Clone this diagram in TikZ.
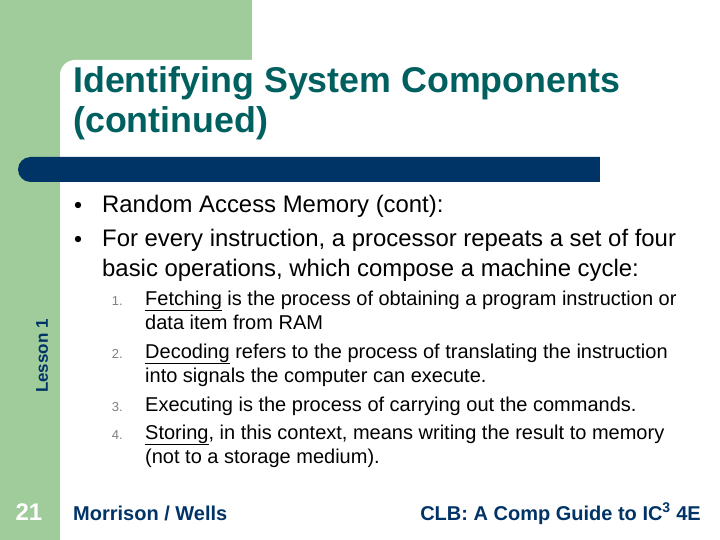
\documentclass[tikz,border=0pt]{standalone}
\usepackage{fontspec}
\setmainfont{Liberation Sans}
\definecolor{gr}{RGB}{160,204,156}
\definecolor{tl}{RGB}{0,96,96}
\definecolor{nv}{RGB}{0,51,102}
\begin{document}
\begin{tikzpicture}[x=1pt,y=-1pt,
  body/.style={anchor=base west,inner sep=0pt,font=\fontsize{23.9}{28}\selectfont},
  sub/.style={anchor=base west,inner sep=0pt,font=\fontsize{20}{24}\selectfont},
  ttl/.style={anchor=base west,inner sep=0pt,text=tl,font=\bfseries\fontsize{35.8}{40}\selectfont},
  foot/.style={text=nv,font=\bfseries\fontsize{20}{24}\selectfont,inner sep=0pt},
  num/.style={anchor=base east,inner sep=0pt,font=\fontsize{13}{15}\selectfont,text=gray}]
\useasboundingbox (0,0) rectangle (720,540);
\fill[gr] (0,0) rectangle (252,75);
\fill[gr] (0,0) rectangle (60,540);
\fill[white,rounded corners=15] (60,560) -- (60,60) -- (270,60) -- (270,560) -- cycle;
\fill[white] (252,0) rectangle (720,540);
\fill[nv,rounded corners=12.5] (18,157) -- (620,157) -- (620,182) -- (18,182) -- cycle;
\fill[white] (600,150) rectangle (630,190);
\node[ttl] (t1) at (73,93) {Identifying System Components};
\node[ttl] (t2) at (73,133) {(continued)};
\fill (78,205) circle (3.2) coordinate (b1);
\fill (78,239) circle (3.2) coordinate (b2);
\node[body] (l1) at (102,213) {Random Access Memory (cont):};
\node[body] (l2) at (102,247) {For every instruction, a processor repeats a set of four};
\node[body] (l3) at (102,276) {basic operations, which compose a machine cycle:};
\node[num] (n1) at (123,305) {1.};
\node[num] (n2) at (123,358) {2.};
\node[num] (n3) at (123,411) {3.};
\node[num] (n4) at (123,439) {4.};
\node[sub] (s1) at (145,305) {\underline{Fetching} is the process of obtaining a program instruction or};
\node[sub] (s1b) at (145,329) {data item from RAM};
\node[sub] (s2) at (145,358) {\underline{Decoding} refers to the process of translating the instruction};
\node[sub] (s2b) at (145,382) {into signals the computer can execute.};
\node[sub] (s3) at (145,411) {Executing is the process of carrying out the commands.};
\node[sub] (s4) at (145,439) {\underline{Storing}, in this context, means writing the result to memory};
\node[sub] (s4b) at (145,463) {(not to a storage medium).};
\node[rotate=90,text=nv,font=\bfseries\fontsize{17}{20}\selectfont,inner sep=0pt] (les) at (42,356) {Lesson 1};
\node[text=white,font=\bfseries\fontsize{24}{28}\selectfont,inner sep=0pt,anchor=base] (pg) at (29,520) {21};
\node[foot,anchor=base west] (f1) at (73,520) {Morrison / Wells};
\node[foot,anchor=base east] (f2) at (701,520) {CLB: A Comp Guide to IC\textsuperscript{3} 4E};
\end{tikzpicture}
\end{document}
